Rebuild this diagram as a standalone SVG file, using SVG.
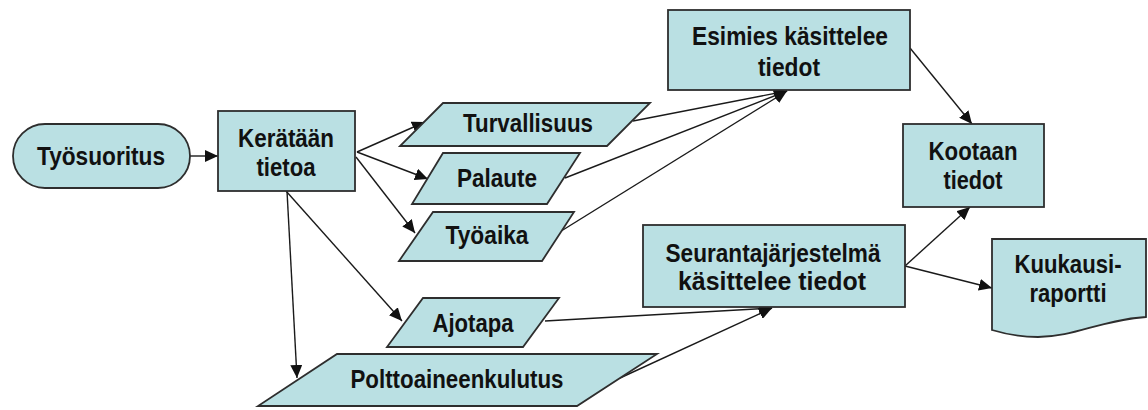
<svg xmlns="http://www.w3.org/2000/svg" width="1148" height="410" viewBox="0 0 1148 410">
  <defs>
    <marker id="arrow" markerUnits="userSpaceOnUse" markerWidth="14" markerHeight="12" refX="13" refY="6" orient="auto">
      <path d="M0,0 L13,6 L0,12 Z" fill="#111"/>
    </marker>
    <style>
      .shape { fill: #bae0e3; stroke: #2e2e2e; stroke-width: 1.8; }
      .label { font-family: "Liberation Sans", Arial, sans-serif; font-weight: bold; font-size: 26px; fill: #111; text-anchor: middle; }
      .edge { stroke: #1a1a1a; stroke-width: 1.4; fill: none; marker-end: url(#arrow); }
    </style>
  </defs>
  <rect width="1148" height="410" fill="#fff"/>

  <!-- connectors -->
  <g id="connectors">
    <line class="edge" x1="190" y1="156" x2="218" y2="156"/>
    <line class="edge" x1="357" y1="152" x2="425" y2="122"/>
    <line class="edge" x1="357" y1="152" x2="428" y2="179"/>
    <line class="edge" x1="356" y1="157" x2="415" y2="233"/>
    <line class="edge" x1="286" y1="191" x2="402" y2="321"/>
    <line class="edge" x1="287" y1="191" x2="297" y2="378"/>
    <line class="edge" x1="633" y1="121" x2="787" y2="91"/>
    <line class="edge" x1="565" y1="178" x2="787" y2="91"/>
    <line class="edge" x1="558" y1="233" x2="787" y2="91"/>
    <line class="edge" x1="910" y1="48" x2="972" y2="124"/>
    <line class="edge" x1="545" y1="321" x2="772" y2="308"/>
    <line class="edge" x1="620" y1="378" x2="772" y2="308"/>
    <line class="edge" x1="905" y1="266" x2="970" y2="207"/>
    <line class="edge" x1="905" y1="266" x2="992" y2="288"/>
  </g>

  <!-- start terminator -->
  <g id="tyosuoritus">
    <rect class="shape" x="13" y="124" width="177" height="64" rx="32" ry="32"/>
    <text class="label" x="101" y="165" textLength="128" lengthAdjust="spacingAndGlyphs">Työsuoritus</text>
  </g>

  <g id="keraataan">
    <rect class="shape" x="218" y="111" width="137" height="80"/>
    <text class="label" x="286" y="147" textLength="96" lengthAdjust="spacingAndGlyphs">Kerätään</text>
    <text class="label" x="286" y="176" textLength="59" lengthAdjust="spacingAndGlyphs">tietoa</text>
  </g>

  <!-- data inputs -->
  <g id="turvallisuus">
    <polygon class="shape" points="443,103 650,103 607,146 400,146"/>
    <text class="label" x="528" y="132" textLength="130" lengthAdjust="spacingAndGlyphs">Turvallisuus</text>
  </g>

  <g id="palaute">
    <polygon class="shape" points="443,153 580,153 547,204 412,204"/>
    <text class="label" x="497" y="187" textLength="80" lengthAdjust="spacingAndGlyphs">Palaute</text>
  </g>

  <g id="tyoaika">
    <polygon class="shape" points="433,212 574,212 542,261 399,261"/>
    <text class="label" x="487" y="244" textLength="83" lengthAdjust="spacingAndGlyphs">Työaika</text>
  </g>

  <g id="ajotapa">
    <polygon class="shape" points="423,298 559,298 523,347 387,347"/>
    <text class="label" x="473" y="332" textLength="81" lengthAdjust="spacingAndGlyphs">Ajotapa</text>
  </g>

  <g id="polttoaineenkulutus">
    <polygon class="shape" points="337,354 657,354 577,406 258,406"/>
    <text class="label" x="457" y="388" textLength="213" lengthAdjust="spacingAndGlyphs">Polttoaineenkulutus</text>
  </g>

  <!-- processing -->
  <g id="esimies">
    <rect class="shape" x="668" y="10" width="242" height="80"/>
    <text class="label" x="790" y="45" textLength="196" lengthAdjust="spacingAndGlyphs">Esimies käsittelee</text>
    <text class="label" x="789" y="76" textLength="62" lengthAdjust="spacingAndGlyphs">tiedot</text>
  </g>

  <g id="seurantajarjestelma">
    <rect class="shape" x="643" y="225" width="262" height="82"/>
    <text class="label" x="773" y="262" textLength="215" lengthAdjust="spacingAndGlyphs">Seurantajärjestelmä</text>
    <text class="label" x="772" y="290" textLength="188" lengthAdjust="spacingAndGlyphs">käsittelee tiedot</text>
  </g>

  <g id="kootaan">
    <rect class="shape" x="903" y="124" width="141" height="83"/>
    <text class="label" x="973" y="160" textLength="89" lengthAdjust="spacingAndGlyphs">Kootaan</text>
    <text class="label" x="973" y="189" textLength="59" lengthAdjust="spacingAndGlyphs">tiedot</text>
  </g>

  <!-- report document -->
  <g id="kuukausiraportti">
    <path class="shape" d="M992,239 L1146,239 L1146,317 C1100,320 1075,337 1038,337 C1018,337 1002,333 992,330 Z"/>
    <text class="label" x="1068" y="273" textLength="107" lengthAdjust="spacingAndGlyphs">Kuukausi-</text>
    <text class="label" x="1068" y="302" textLength="77" lengthAdjust="spacingAndGlyphs">raportti</text>
  </g>
</svg>
